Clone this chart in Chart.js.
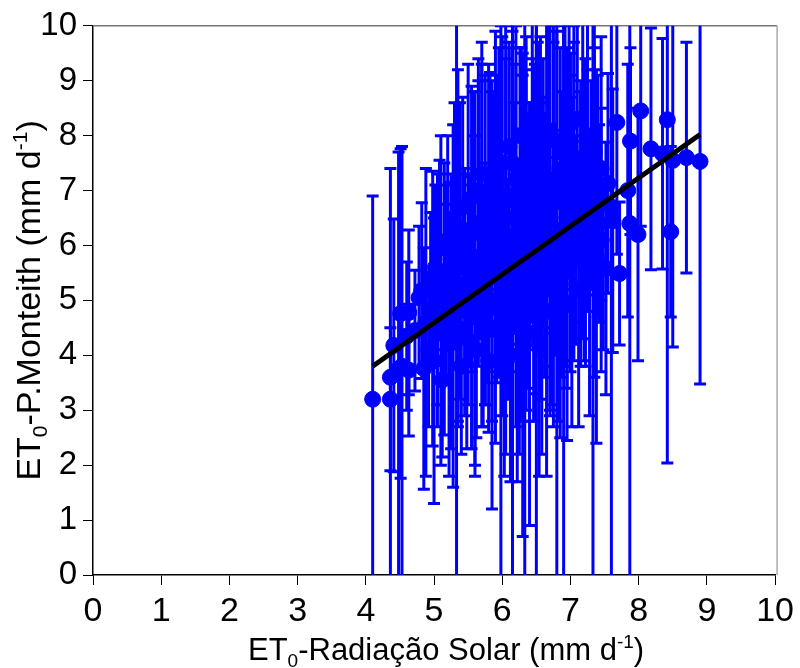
<!DOCTYPE html>
<html lang="pt">
<head>
    <meta charset="UTF-8">
    <title>ET0 Radiação Solar x Penman-Monteith</title>
    <script src="https://cdn.jsdelivr.net/npm/chart.js"></script>
    <style>
        body {
            margin: 0;
            background: #fff;
        }
        #wrap {
            width: 800px;
            height: 668px;
        }
    </style>
</head>
<body>
    <div id="wrap">
        <canvas id="etChart" width="800" height="668"></canvas>
    </div>
<script>
    // valores: ET0 Radiação Solar (x), ET0 P.Monteith (y), desvio (barra)
    const xVals = [
        4.10, 4.36, 4.36, 4.41, 4.48, 4.51, 4.53, 4.60, 4.63, 4.63,
        4.72, 4.78, 4.82, 4.85, 4.88, 4.92, 4.95, 4.98, 5.00, 5.02,
        5.05, 5.08, 5.10, 5.12, 5.15, 5.18, 5.20, 5.22, 5.25, 5.28,
        5.30, 5.33, 5.35, 5.38, 5.40, 5.42, 5.45, 5.48, 5.50, 5.52,
        5.55, 5.58, 5.60, 5.62, 5.65, 5.68, 5.70, 5.72, 5.75, 5.78,
        5.80, 5.82, 5.85, 5.88, 5.90, 5.92, 5.95, 5.98, 6.00, 6.00,
        6.03, 6.05, 6.08, 6.10, 6.12, 6.15, 6.17, 6.20, 6.22, 6.24,
        6.26, 6.28, 6.30, 6.33, 6.35, 6.37, 6.40, 6.42, 6.44, 6.46,
        6.48, 6.50, 6.52, 6.54, 6.56, 6.58, 6.60, 6.62, 6.65, 6.67,
        6.70, 6.72, 6.75, 6.78, 6.80, 6.82, 6.85, 6.88, 6.90, 6.92,
        6.95, 6.98, 7.00, 7.02, 7.05, 7.08, 7.10, 7.12, 7.15, 7.18,
        7.20, 7.22, 7.25, 7.28, 7.30, 7.33, 7.35, 7.38, 7.40, 7.42,
        7.45, 7.48, 7.52, 7.55, 7.60, 7.62, 7.68, 7.72, 7.84, 7.87,
        7.88, 7.99, 8.03, 8.18, 8.35, 8.42, 8.47, 8.50, 8.70, 8.90,
        5.15, 5.25, 5.35, 5.45, 5.55, 5.60, 5.65, 5.70, 5.75, 5.80,
        5.85, 5.90, 5.95, 6.00, 6.05, 6.10, 6.15, 6.20, 6.25, 6.30,
        6.35, 6.40, 6.45, 6.50, 6.55, 6.60, 6.65, 6.70, 6.75, 6.80,
        6.85, 6.90, 6.95, 7.00, 7.05, 7.15, 7.25, 7.35, 7.45, 5.05
    ];
    const yVals = [
        3.20, 3.20, 3.60, 4.18, 3.75, 4.76, 3.80, 4.35, 3.73, 4.78,
        4.45, 5.05, 5.18, 3.76, 4.60, 4.10, 5.40, 4.85, 3.90, 5.60,
        4.40, 5.95, 5.00, 3.55, 4.65, 5.30, 6.10, 4.20, 5.75, 4.90,
        6.40, 5.20, 4.50, 5.90, 3.80, 6.70, 5.10, 4.30, 6.20, 5.55,
        4.70, 6.90, 5.30, 4.10, 6.40, 5.80, 7.30, 4.90, 6.10, 5.40,
        3.90, 6.75, 5.00, 7.10, 4.50, 6.30, 5.60, 4.80, 7.50, 6.00,
        4.30, 6.80, 5.20, 7.80, 4.00, 5.80, 6.50, 7.20, 4.60, 5.50,
        8.00, 6.20, 4.90, 5.30, 7.00, 5.90, 4.40, 6.60, 7.60, 5.00,
        6.30, 5.60, 7.90, 4.20, 6.90, 5.40, 7.40, 6.00, 4.80, 8.10,
        6.50, 5.20, 7.20, 5.80, 6.80, 4.60, 7.70, 6.20, 5.50, 7.00,
        4.95, 8.20, 6.40, 5.70, 7.60, 6.10, 8.30, 5.20, 6.80, 7.30,
        5.90, 6.60, 8.00, 5.50, 7.10, 6.20, 7.70, 5.80, 6.90, 6.40,
        7.40, 5.60, 5.58, 7.13, 6.70, 6.45, 8.24, 5.49, 7.00, 6.40,
        7.90, 6.20, 8.45, 7.76, 7.67, 8.29, 6.25, 7.55, 7.60, 7.53,
        5.50, 4.80, 6.00, 5.60, 6.30, 5.00, 7.00, 6.20, 5.30, 6.50,
        5.90, 7.40, 6.70, 5.20, 5.80, 6.90, 7.50, 6.00, 4.80, 7.30,
        6.40, 5.70, 6.90, 7.10, 5.90, 6.60, 7.00, 5.60, 6.20, 7.90,
        5.30, 7.40, 6.50, 7.20, 6.80, 6.30, 7.00, 6.60, 6.10, 5.20
    ];
    const errVals = [
        3.70, 1.30, 3.80, 2.30, 3.95, 3.00, 4.00, 1.35, 1.20, 1.50,
        1.10, 1.30, 1.60, 2.20, 2.80, 1.40, 1.20, 2.50, 2.60, 1.50,
        1.70, 1.60, 3.00, 1.40, 2.10, 1.80, 1.90, 2.40, 1.40, 3.30,
        2.20, 5.80, 1.80, 2.70, 1.60, 2.00, 2.20, 2.00, 3.10, 1.70,
        2.40, 1.90, 3.50, 1.60, 2.60, 1.50, 2.00, 2.20, 3.00, 1.90,
        1.30, 2.40, 3.80, 1.70, 2.10, 2.80, 2.00, 5.20, 2.30, 1.60,
        2.50, 3.20, 2.00, 1.90, 2.30, 6.00, 2.10, 2.80, 2.90, 1.80,
        1.60, 3.40, 4.20, 5.50, 2.20, 2.50, 3.50, 2.00, 2.60, 2.20,
        3.00, 6.10, 1.80, 2.40, 2.90, 3.20, 2.00, 2.40, 3.00, 2.20,
        3.60, 2.10, 2.80, 1.80, 7.00, 1.80, 1.90, 2.60, 5.80, 3.20,
        2.50, 2.40, 2.70, 3.00, 2.40, 1.90, 1.80, 2.50, 2.20, 3.00,
        2.00, 2.80, 2.20, 2.60, 1.90, 6.40, 2.60, 3.40, 2.20, 1.80,
        2.40, 1.50, 2.30, 2.00, 6.80, 2.40, 2.40, 1.30, 2.30, 6.60,
        1.70, 2.30, 2.10, 2.20, 2.10, 6.25, 1.55, 3.40, 2.10, 4.05,
        2.00, 2.50, 3.20, 1.80, 2.60, 3.00, 2.40, 3.50, 2.20, 2.80,
        3.10, 2.50, 2.90, 2.30, 3.60, 2.70, 2.40, 3.30, 2.60, 2.20,
        3.40, 2.90, 2.50, 3.00, 2.70, 2.10, 3.20, 2.60, 3.50, 2.00,
        2.80, 2.60, 3.10, 2.30, 2.90, 2.50, 2.20, 3.00, 2.40, 2.10
    ];
    // reta de regressão
    const fitX = [4.1, 8.9];
    const fitY = [3.8, 8.02];
    const tickVals = [0, 1, 2, 3, 4, 5, 6, 7, 8, 9, 10];

    const BLUE = '#0000FF';
    const FONT = "'Liberation Sans', Arial, sans-serif";

    const points = xVals.map((x, i) => ({ x: x, y: yVals[i] }));
    const fitLine = fitX.map((x, i) => ({ x: x, y: fitY[i] }));

    // barras de erro (desenhadas pelas escalas do gráfico)
    const errorBars = {
        id: 'errorBars',
        beforeDatasetsDraw(chart) {
            const { ctx, chartArea, scales } = chart;
            ctx.save();
            ctx.beginPath();
            ctx.rect(chartArea.left, chartArea.top, chartArea.right - chartArea.left, chartArea.bottom - chartArea.top);
            ctx.clip();
            ctx.strokeStyle = BLUE;
            ctx.lineWidth = 3;
            xVals.forEach((x, i) => {
                const px = scales.x.getPixelForValue(x);
                const top = scales.y.getPixelForValue(yVals[i] + errVals[i]);
                const bot = scales.y.getPixelForValue(yVals[i] - errVals[i]);
                ctx.beginPath();
                ctx.moveTo(px, top);
                ctx.lineTo(px, bot);
                ctx.moveTo(px - 6, top);
                ctx.lineTo(px + 6, top);
                ctx.moveTo(px - 6, bot);
                ctx.lineTo(px + 6, bot);
                ctx.stroke();
            });
            ctx.restore();
        }
    };

    // moldura superior e direita
    const frame = {
        id: 'frame',
        beforeDatasetsDraw(chart) {
            const { ctx, chartArea } = chart;
            ctx.save();
            ctx.lineWidth = 1.5;
            ctx.strokeStyle = '#777';
            ctx.beginPath();
            ctx.moveTo(chartArea.left, chartArea.top);
            ctx.lineTo(chartArea.right + 2, chartArea.top);
            ctx.stroke();
            ctx.strokeStyle = '#aaa';
            ctx.beginPath();
            ctx.moveTo(chartArea.right + 2, chartArea.top);
            ctx.lineTo(chartArea.right + 2, chartArea.bottom);
            ctx.stroke();
            ctx.restore();
        }
    };

    // títulos com subscrito / sobrescrito
    function drawRich(ctx, parts, size, cx, cy) {
        const small = Math.round(size * 0.62);
        let total = 0;
        parts.forEach(p => {
            ctx.font = (p.k === 'n' ? size : small) + 'px ' + FONT;
            p.w = ctx.measureText(p.t).width;
            total += p.w;
        });
        let x = cx - total / 2;
        ctx.textBaseline = 'alphabetic';
        ctx.textAlign = 'left';
        parts.forEach(p => {
            let dy = 0;
            if (p.k === 'sub') dy = size * 0.22;
            if (p.k === 'sup') dy = -size * 0.38;
            ctx.font = (p.k === 'n' ? size : small) + 'px ' + FONT;
            ctx.fillText(p.t, x, cy + dy);
            x += p.w;
        });
    }

    const axisTitles = {
        id: 'axisTitles',
        afterDraw(chart) {
            const { ctx, chartArea } = chart;
            ctx.save();
            ctx.fillStyle = '#000';
            const midX = (chartArea.left + chartArea.right) / 2 + 12;
            drawRich(ctx, [
                { t: 'ET', k: 'n' }, { t: '0', k: 'sub' },
                { t: '-Radiação Solar (mm d', k: 'n' }, { t: '-1', k: 'sup' }, { t: ')', k: 'n' }
            ], 31, midX, 660);
            const midY = (chartArea.top + chartArea.bottom) / 2;
            ctx.translate(40, midY);
            ctx.rotate(-Math.PI / 2);
            drawRich(ctx, [
                { t: 'ET', k: 'n' }, { t: '0', k: 'sub' },
                { t: '-P.Monteith (mm d', k: 'n' }, { t: '-1', k: 'sup' }, { t: ')', k: 'n' }
            ], 34, 0, 0);
            ctx.restore();
        }
    };

    new Chart(document.getElementById('etChart'), {
        type: 'scatter',
        data: {
            datasets: [{
                type: 'line',
                label: 'Regressão',
                data: fitLine,
                borderColor: '#000',
                borderWidth: 5,
                pointRadius: 0,
                fill: false,
                order: 0
            }, {
                label: 'ET0',
                data: points,
                backgroundColor: BLUE,
                borderColor: BLUE,
                pointRadius: 8,
                pointHoverRadius: 8,
                order: 1
            }]
        },
        options: {
            responsive: false,
            animation: false,
            layout: {
                padding: { top: 25, right: 22, left: 0, bottom: 0 }
            },
            plugins: {
                legend: { display: false },
                tooltip: { enabled: false }
            },
            scales: {
                x: {
                    type: 'linear',
                    min: 0,
                    max: 10,
                    afterBuildTicks(scale) {
                        scale.ticks = tickVals.map(v => ({ value: v }));
                    },
                    afterFit(scale) {
                        scale.height = 93;
                    },
                    ticks: {
                        color: '#000',
                        padding: 6,
                        maxRotation: 0,
                        font: { family: FONT, size: 34 }
                    },
                    grid: {
                        drawOnChartArea: false,
                        drawTicks: true,
                        tickLength: 10,
                        color: '#000'
                    },
                    border: { color: '#000', width: 1.5 }
                },
                y: {
                    type: 'linear',
                    min: 0,
                    max: 10,
                    afterBuildTicks(scale) {
                        scale.ticks = tickVals.map(v => ({ value: v }));
                    },
                    afterFit(scale) {
                        scale.width = 93;
                    },
                    ticks: {
                        color: '#000',
                        padding: 6,
                        font: { family: FONT, size: 33 }
                    },
                    grid: {
                        drawOnChartArea: false,
                        drawTicks: true,
                        tickLength: 10,
                        color: '#000'
                    },
                    border: { color: '#000', width: 1.5 }
                }
            }
        },
        plugins: [frame, errorBars, axisTitles]
    });
</script>
</body>
</html>
